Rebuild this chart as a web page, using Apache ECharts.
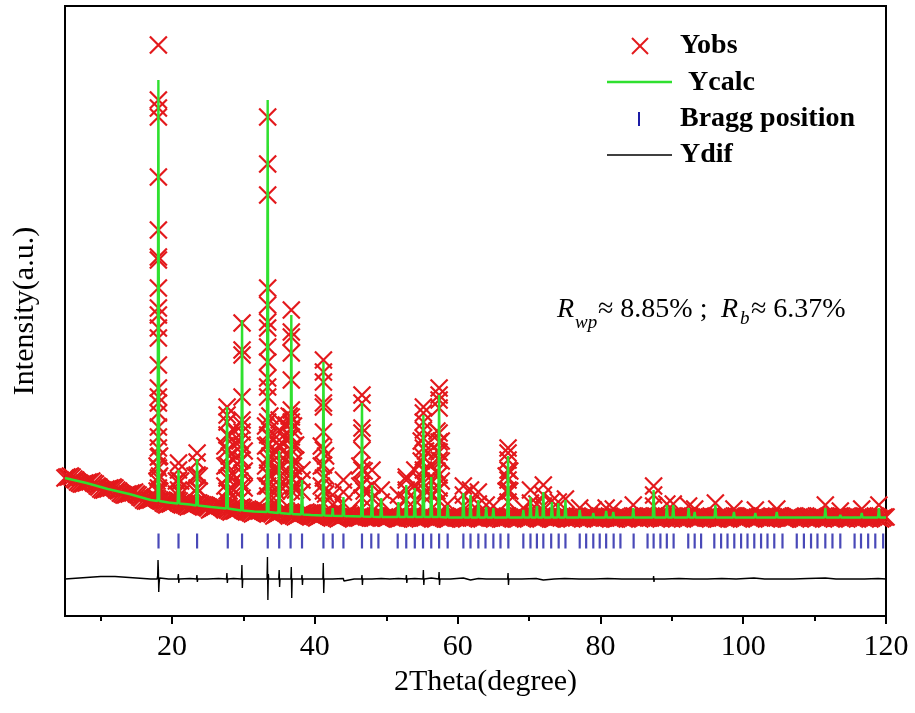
<!DOCTYPE html>
<html>
<head>
<meta charset="utf-8">
<script src="https://cdn.jsdelivr.net/npm/echarts@6/dist/echarts.min.js"></script>
<style>
html,body{margin:0;padding:0;background:#fff;}
#chart{width:915px;height:713px;}
</style>
</head>
<body>
<div id="chart"></div>
<script>
// ---------- DATA (intensity in arbitrary units) ----------
const twoThetaStart = 5.0;
const twoThetaStep = 0.25;
// observed background band, one value per 0.25 deg from 5.0 to 120.0
const obsBgInt = [
 138,139,139,140,139,137,136,134,133,132,
 132,133,133,134,134,135,133,132,130,129,
 127,126,126,127,127,128,128,129,128,126,
 125,123,122,121,121,122,122,123,123,124,
 122,121,119,118,116,115,115,116,116,117,
 118,118,117,116,115,113,112,111,112,112,
 113,114,115,116,115,113,112,111,110,109,
 110,110,111,112,113,113,112,111,110,109,
 108,106,107,108,109,110,111,111,110,109,
 108,106,105,104,105,105,106,107,108,109,
 108,106,105,104,103,102,103,104,105,105,
 106,107,106,105,104,103,102,100,101,102,
 103,104,105,106,105,103,102,101,100,99,
 100,101,102,103,103,104,103,102,101,100,
 99,98,99,100,101,102,103,103,102,101,
 100,99,98,97,98,99,100,101,102,103,
 101,100,99,99,98,98,99,100,100,99,
 99,98,98,99,100,100,99,98,98,99,
 98,99,100,100,99,98,97,97,98,99,
 100,99,98,98,99,100,100,99,98,97,
 98,99,99,100,99,98,97,98,99,100,
 100,99,98,97,97,98,99,100,99,98,
 98,99,100,99,98,97,98,99,100,100,
 99,98,97,98,99,100,100,99,98,98,
 99,100,99,98,97,97,98,99,100,99,
 98,97,98,99,100,100,99,98,97,98,
 99,100,100,99,98,97,98,99,99,100,
 99,98,97,97,98,99,100,99,98,99,
 100,100,99,98,97,98,99,100,99,98,
 97,98,99,100,100,99,98,97,98,99,
 100,99,98,98,99,100,99,98,97,97,
 98,99,100,99,98,97,98,99,100,100,
 99,98,97,98,99,100,99,98,98,99,
 100,100,99,98,97,98,99,100,99,98,
 97,98,99,100,99,98,97,98,99,100,
 100,99,98,97,98,99,100,100,99,98,
 98,99,100,99,98,97,97,98,99,100,
 99,98,97,98,99,100,100,99,98,97,
 98,99,100,100,99,98,97,98,99,99,
 100,99,98,97,98,99,100,99,98,98,
 99,100,99,98,97,97,98,99,100,100,
 99,98,97,98,99,100,99,98,97,98,
 99,100,100,99,98,97,98,99,100,99,
 98,97,98,99,100,100,99,98,97,98,
 99,100,99,98,97,98,99,100,100,99,
 98,97,98,99,100,99,98,97,98,99,
 99
];
// observed points on the reflections (peak columns, then flank columns)
const obsPeakTheta = [18.08,33.39,29.8,36.7,41.2,46.6,27.7,20.9,23.5,35.0,36.0,34.2,37.3,28.6,38.2,44.0,48.0,42.5,
  52.8,55.2,57.4,56.3,54.0,49.3,51.7,58.6,60.8,61.8,62.9,64.0,65.0,67.06,69.2,70.2,71.1,72.0,73.2,74.1,75.1,
  77.1,79.0,80.8,81.8,84.6,87.45,89.3,90.2,92.35,93.2,96.1,98.7,101.7,104.7,111.5,113.6,116.6,119.0,
  17.9,18.25,27.4,28.0,29.5,30.1,33.1,33.7,34.6,36.4,37.0,40.9,41.5,46.3,46.9,54.9,55.5,57.1,57.7,
  66.8,67.3,20.6,21.2,23.2,23.8];
const obsPeakInts = [
 [571,516,508,499,439,386,359,356,328,308,301,288,278,251,228,219,213,203,189,179,168,159,148,138,128],
 [499,452,421,328,311,294,288,269,254,238,229,219,194,181,171,156,143,130,120],
 [293,266,261,219,196,191,184,171,156,143,130,118],
 [306,284,279,263,236,206,199,194,186,179,166,151,138,125],
 [256,244,234,213,209,184,166,151,138,125,113],
 [221,213,188,183,166,146,131,118],
 [209,201,194,181,166,151,138,125,115],
 [153,146,136,126],
 [163,154,141,128],
 [196,186,176,171,161,146,131,118],
 [191,176,161,146,131],
 [176,161,146,131,118],
 [171,156,141,126],
 [186,171,156,141,126],
 [146,136,124],
 [136,124,113],
 [146,131,118],
 [121,111],
 [139,136,126,116],
 [209,203,194,186,178,168,159,146,133,120],
 [228,221,216,208,183,174,164,156,141,128,115],
 [151,136,121],
 [146,131,116],
 [126,114],
 [121,110],
 [112],
 [130,121,110],
 [126,113],
 [124,112],
 [111],
 [110],
 [168,163,156,146,136,126,114],
 [108],
 [126,113],
 [112],
 [131,121,110],
 [115],
 [114],
 [117],
 [108],
 [106],
 [108],
 [107],
 [111],
 [130,121,110],
 [112],
 [112],
 [110],
 [107],
 [113],
 [107],
 [106],
 [107],
 [111],
 [105],
 [107],
 [111],
 [150,135,125],
 [160,140,125],
 [170,150,130],
 [180,160,140,125],
 [175,155,135],
 [165,145,128],
 [190,170,150,130],
 [200,180,160,140],
 [165,145,125],
 [200,180,160,140],
 [190,170,150,130],
 [170,150,130],
 [160,140,122],
 [150,130],
 [145,125],
 [175,155,135],
 [165,145,125],
 [185,165,145,125],
 [175,155,135],
 [140,125],
 [145,125],
 [135,122],
 [135,122],
 [140,125],
 [140,125]
];
// calculated profile [2theta, intensity]
const calcPoints = [
 [5,138],[8,133],[11,127],[14,122],[17,116],
 [17.96,115],[18.08,536],[18.2,115],[19.5,113.5],
 [20.78,112.5],[20.9,146],[21.02,112.5],[22.5,111.5],
 [23.38,110.5],[23.5,157],[23.62,110.5],[25.5,109],
 [27.58,107.5],[27.7,209],[27.82,107.5],
 [29.68,105.5],[29.8,296],[29.92,105.5],[31.5,104.5],
 [33.27,104],[33.39,516],[33.51,104],
 [34.88,103],[35.0,165],[35.12,103],
 [36.58,102],[36.7,301],[36.82,102],
 [38.08,101.5],[38.2,136],[38.32,101.5],[39.5,101],
 [41.08,100.5],[41.2,254],[41.32,100.5],
 [42.42,100.3],[42.5,108],[42.58,100.3],
 [43.88,100],[44.0,119],[44.12,100],
 [46.48,99.5],[46.6,213],[46.72,99.5],
 [47.88,99.2],[48.0,131],[48.12,99.2],
 [49.18,99],[49.3,118],[49.42,99],
 [51.58,99],[51.7,114],[51.82,99],
 [52.68,99],[52.8,131],[52.92,99],
 [53.88,99],[54.0,128],[54.12,99],
 [55.08,99],[55.2,201],[55.32,99],
 [56.18,99],[56.3,139],[56.42,99],
 [57.28,99],[57.4,221],[57.52,99],
 [58.48,98.5],[58.6,111],[58.72,98.5],
 [60.68,98.5],[60.8,123],[60.92,98.5],
 [61.68,98.5],[61.8,121],[61.92,98.5],
 [62.78,98.5],[62.9,116],[63.02,98.5],
 [63.88,98.5],[64.0,109],[64.12,98.5],
 [64.88,98.5],[65.0,108],[65.12,98.5],
 [66.94,98.5],[67.06,160],[67.18,98.5],
 [69.08,98.5],[69.2,106],[69.32,98.5],
 [70.08,98.5],[70.2,119],[70.32,98.5],
 [70.98,98.5],[71.1,110],[71.22,98.5],
 [71.88,98.5],[72.0,124],[72.12,98.5],
 [73.08,98.5],[73.2,114],[73.32,98.5],
 [73.98,98.5],[74.1,113],[74.22,98.5],
 [74.98,98.5],[75.1,116],[75.22,98.5],
 [76.98,98.5],[77.1,106],[77.22,98.5],
 [78.88,98.5],[79.0,103],[79.12,98.5],
 [80.68,98.5],[80.8,105],[80.92,98.5],
 [81.68,98.5],[81.8,104],[81.92,98.5],
 [84.48,98.5],[84.6,108],[84.72,98.5],
 [87.33,98.5],[87.45,126],[87.57,98.5],
 [89.18,98.5],[89.3,111],[89.42,98.5],
 [90.08,98.5],[90.2,111],[90.32,98.5],
 [92.23,98.5],[92.35,108],[92.47,98.5],
 [93.08,98.5],[93.2,104],[93.32,98.5],
 [95.98,98.5],[96.1,111],[96.22,98.5],
 [98.58,98.5],[98.7,104],[98.82,98.5],
 [101.58,98.5],[101.7,103],[101.82,98.5],
 [104.58,98.5],[104.7,104],[104.82,98.5],
 [111.38,98.5],[111.5,108],[111.62,98.5],
 [113.48,98.5],[113.6,101],[113.72,98.5],
 [116.48,98.5],[116.6,103],[116.72,98.5],
 [118.88,98.5],[119.0,108],[119.12,98.5],
 [120,98.5]
];
// difference curve (offset) [2theta, intensity]
const difPoints = [
 [5,37],[6,37.5],[7,38],[8,38.5],[9,39],[10,39.5],[11,39.5],[12,39.5],[13,39],[14,38.5],[15,38],[16,37.5],[17,37],
 [17.9,37],[17.98,40],[18.03,56],[18.08,46],[18.13,24],[18.18,32],[18.25,38],[19.5,37],
 [20.8,37],[20.88,42],[20.94,33],[21.0,37],[22.5,37.5],
 [23.42,37],[23.48,41],[23.54,34],[23.6,37],[25,37],[26.5,37.5],
 [27.62,37],[27.68,43],[27.74,33],[27.8,37],[28.6,37.5],
 [29.72,37],[29.78,51],[29.84,28],[29.9,37],[31.5,37],
 [33.3,37],[33.36,59],[33.42,16],[33.48,42],[33.54,37],[34.2,37],
 [34.94,37],[35.0,46],[35.06,29],[35.12,37],[36.0,37],
 [36.64,37],[36.7,49],[36.76,18],[36.82,37],[37.3,37],
 [38.14,37],[38.2,41],[38.26,31],[38.32,37],[39.5,37],
 [41.12,37],[41.18,53],[41.24,23],[41.3,37],[42.5,37],[44.0,37.5],[44.06,35],[45.5,37],
 [46.54,37],[46.6,41],[46.66,31],[46.72,37],[48,37],[49.3,37.5],[50.5,37],[51.7,37.5],
 [52.76,37],[52.82,41],[52.88,33],[52.94,37],[54,37.5],
 [55.14,37],[55.2,46],[55.26,31],[55.32,37],[56.3,38],
 [57.34,37],[57.4,44],[57.46,31],[57.52,37],[59,37],[60.8,38],[61.8,36],[62.9,37.5],[64,37],[65.5,37],
 [67.0,37],[67.06,43],[67.12,31],[67.18,37],[69,37],[71,37.5],[72.0,36],[73.5,37],[75,37.5],[77,37],
 [79,37],[81,37.5],[83,37],[85,37],[87.4,37],[87.45,40],[87.5,34],[87.55,37],[89,37],[91,37.5],
 [93,37],[95,37],[97,37.5],[99,37],[101.5,38],[101.6,36],[103,37],[105,37],[107,37],[109,37.5],
 [111.5,38],[111.6,36],[113,37],[115,37],[117,37],[118.9,37.5],[119.0,36],[120,37]
];
// Bragg reflection positions (2theta) and marker level
const braggTheta = [18.1,20.9,23.5,27.8,29.8,33.4,35.0,36.6,38.2,41.2,42.5,44.0,46.6,47.9,48.9,
 51.6,52.8,54.0,55.15,56.3,57.4,58.6,60.8,61.8,62.9,63.9,65.0,66.0,67.1,69.2,70.2,71.1,72.0,73.1,
 74.15,75.1,77.1,78.0,79.0,79.9,80.8,81.85,82.8,84.65,86.6,87.45,88.4,89.3,90.25,92.3,93.2,94.1,
 95.95,96.9,97.8,98.75,99.7,100.6,101.55,102.5,103.4,104.35,105.5,107.5,108.5,109.5,110.4,111.5,
 112.5,113.6,115.6,116.5,117.5,118.5,119.6];
const braggLevel = 75;
const xMajorTicks = [20,40,60,80,100,120];
const xMinorTicks = [10,30,50,70,90,110];
const seriesNames = ['Yobs','Ycalc','Bragg position','Ydif'];

// ---------- build series data ----------
const obsData = [];
obsBgInt.forEach((v,i)=>obsData.push([twoThetaStart + i*twoThetaStep, v]));
obsPeakTheta.forEach((t,i)=>obsPeakInts[i].forEach(v=>obsData.push([t, v])));
const braggData = braggTheta.map(t=>[t, braggLevel]);

const SERIF = '"Liberation Serif","Times New Roman",serif';
const RED = '#e3191c', GREEN = '#2fe02f', BLUE = '#1c1ca6';

const chart = echarts.init(document.getElementById('chart'), null, {renderer:'canvas'});
chart.setOption({
  animation:false,
  backgroundColor:'#fff',
  grid:{left:65,right:29,top:6,bottom:97,show:true,borderColor:'#000',borderWidth:2,backgroundColor:'transparent'},
  xAxis:[{
    type:'value',min:5,max:120,position:'bottom',
    name:'2Theta(degree)',nameLocation:'middle',nameGap:48,
    nameTextStyle:{fontFamily:SERIF,fontSize:30,color:'#000',padding:[0,0,0,20]},
    axisLine:{show:true,lineStyle:{color:'#000',width:2}},
    axisTick:{show:true,inside:false,length:8,lineStyle:{color:'#000',width:2},customValues:xMajorTicks},
    axisLabel:{show:true,margin:16,fontFamily:SERIF,fontSize:30,color:'#000',customValues:xMajorTicks},
    splitLine:{show:false}
  },{
    type:'value',min:5,max:120,position:'bottom',
    axisLine:{show:false},
    axisTick:{show:true,inside:false,length:5,lineStyle:{color:'#000',width:2},customValues:xMinorTicks},
    axisLabel:{show:false},
    splitLine:{show:false}
  }],
  yAxis:{
    type:'value',min:0,max:610,
    name:'Intensity(a.u.)',nameLocation:'middle',nameGap:25,
    nameTextStyle:{fontFamily:SERIF,fontSize:30,color:'#000'},
    axisLine:{show:true,lineStyle:{color:'#000',width:2}},
    axisTick:{show:false},axisLabel:{show:false},splitLine:{show:false}
  },
  series:[
    {name:seriesNames[0],type:'scatter',data:obsData,
     symbol:'path://M0,0L10,10M10,0L0,10',symbolSize:17,
     itemStyle:{color:RED,borderColor:RED,borderWidth:2.2,opacity:1},z:2,silent:true},
    {name:seriesNames[1],type:'line',data:calcPoints,showSymbol:false,symbol:'none',
     lineStyle:{color:GREEN,width:2.4},z:3,silent:true},
    {name:seriesNames[2],type:'scatter',data:braggData,symbol:'rect',symbolSize:[2.2,15],
     itemStyle:{color:BLUE},z:3,silent:true},
    {name:seriesNames[3],type:'line',data:difPoints,showSymbol:false,symbol:'none',
     lineStyle:{color:'#000',width:1.4},z:3,silent:true}
  ],
  graphic:[
    {type:'line',shape:{x1:632,y1:38,x2:648,y2:54},style:{stroke:RED,lineWidth:2}},
    {type:'line',shape:{x1:632,y1:54,x2:648,y2:38},style:{stroke:RED,lineWidth:2}},
    {type:'line',shape:{x1:607,y1:82,x2:672,y2:82},style:{stroke:GREEN,lineWidth:2.4}},
    {type:'rect',shape:{x:638,y:112,width:2,height:14},style:{fill:BLUE}},
    {type:'line',shape:{x1:607,y1:155,x2:672,y2:155},style:{stroke:'#000',lineWidth:1.4}},
    {type:'text',x:680,y:46,style:{text:seriesNames[0],font:'bold 28px '+SERIF,fill:'#000',align:'left',verticalAlign:'middle',textAlign:'left',textVerticalAlign:'middle'}},
    {type:'text',x:688,y:83,style:{text:seriesNames[1],font:'bold 28px '+SERIF,fill:'#000',align:'left',verticalAlign:'middle',textAlign:'left',textVerticalAlign:'middle'}},
    {type:'text',x:680,y:119,style:{text:seriesNames[2],font:'bold 28px '+SERIF,fill:'#000',align:'left',verticalAlign:'middle',textAlign:'left',textVerticalAlign:'middle'}},
    {type:'text',x:680,y:155,style:{text:seriesNames[3],font:'bold 28px '+SERIF,fill:'#000',align:'left',verticalAlign:'middle',textAlign:'left',textVerticalAlign:'middle'}},
    {type:'text',x:557,y:310,style:{text:'R',font:'italic 28px '+SERIF,fill:'#000',align:'left',verticalAlign:'middle',textAlign:'left',textVerticalAlign:'middle'}},
    {type:'text',x:575,y:323,style:{text:'wp',font:'italic 19px '+SERIF,fill:'#000',align:'left',verticalAlign:'middle',textAlign:'left',textVerticalAlign:'middle'}},
    {type:'text',x:598,y:310,style:{text:'\u2248 8.85% ;',font:'28px '+SERIF,fill:'#000',align:'left',verticalAlign:'middle',textAlign:'left',textVerticalAlign:'middle'}},
    {type:'text',x:721,y:310,style:{text:'R',font:'italic 28px '+SERIF,fill:'#000',align:'left',verticalAlign:'middle',textAlign:'left',textVerticalAlign:'middle'}},
    {type:'text',x:740,y:319,style:{text:'b',font:'italic 19px '+SERIF,fill:'#000',align:'left',verticalAlign:'middle',textAlign:'left',textVerticalAlign:'middle'}},
    {type:'text',x:751,y:310,style:{text:'\u2248 6.37%',font:'28px '+SERIF,fill:'#000',align:'left',verticalAlign:'middle',textAlign:'left',textVerticalAlign:'middle'}}
  ]
});
</script>
</body>
</html>
